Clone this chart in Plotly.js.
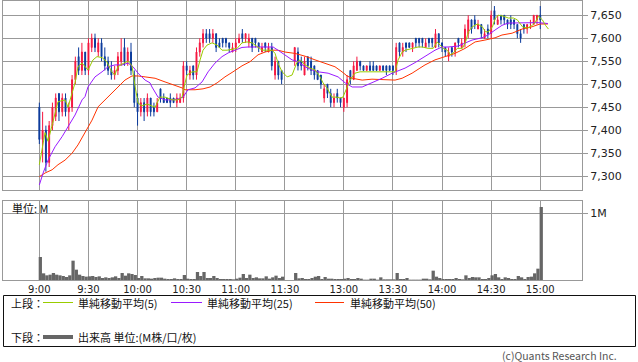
<!DOCTYPE html>
<html><head><meta charset="utf-8">
<script src="https://cdn.plot.ly/plotly-3.0.1.min.js"></script>
<style>html,body{margin:0;padding:0;background:#fff;}#chart{width:638px;height:362px;}</style>
</head><body><div id="chart"></div>
<script>
// ---- data (2-minute bars; morning 9:00-11:28, afternoon 12:30-15:00) ----
const tickLabels = ['9:00','9:30','10:00','10:30','11:00','11:30','13:00','13:30','14:00','14:30','15:00'];
const amBars = 75, pmBars = 76;

const openP = [
7450,7380,7400,7330,7410,7430,7480,7440,7470,7440,7450,7510,7560,7530,7570,7530,7580,7600,7570,7590,
7560,7550,7530,7520,7530,7550,7580,7550,7570,7520,7470,7440,7460,7440,7470,7450,7440,7490,7470,7470,
7470,7470,7460,7460,7470,7540,7520,7540,7520,7570,7590,7610,7610,7600,7610,7590,7600,7600,7590,7570,
7580,7590,7610,7600,7590,7600,7600,7590,7570,7590,7570,7580,7520,7550,7530,
// afternoon
7550,7570,7550,7520,7560,7550,7540,7530,7520,7470,7500,7480,7460,7480,7470,7450,7460,7530,7510,7530,
7550,7540,7530,7540,7540,7540,7530,7540,7540,7540,7540,7530,7590,7570,7590,7590,7580,7600,7600,7600,
7580,7600,7600,7580,7610,7590,7580,7560,7580,7570,7600,7580,7590,7610,7640,7640,7620,7630,7600,7620,
7610,7660,7630,7650,7650,7640,7640,7640,7630,7610,7630,7620,7630,7630,7640,7650];
const highP = [
7460,7440,7410,7420,7460,7480,7480,7480,7480,7460,7520,7560,7580,7590,7570,7600,7610,7610,7600,7600,
7580,7560,7550,7540,7570,7600,7600,7580,7590,7530,7480,7470,7470,7480,7470,7460,7470,7490,7480,7470,
7480,7470,7480,7480,7550,7550,7540,7540,7580,7600,7620,7620,7620,7620,7610,7600,7600,7600,7590,7590,
7600,7610,7620,7610,7610,7600,7600,7590,7590,7590,7590,7590,7560,7550,7530,
// afternoon
7580,7580,7560,7560,7560,7560,7540,7530,7520,7500,7500,7490,7480,7490,7470,7470,7520,7530,7550,7560,
7550,7540,7540,7550,7550,7540,7540,7540,7540,7540,7540,7590,7590,7590,7590,7590,7590,7600,7600,7600,
7600,7600,7600,7620,7610,7590,7580,7580,7580,7590,7600,7600,7630,7650,7640,7650,7640,7630,7620,7630,
7660,7670,7650,7650,7650,7640,7650,7640,7630,7620,7630,7630,7640,7650,7650,7670];
const lowP = [
7370,7330,7310,7320,7400,7420,7420,7430,7430,7400,7440,7500,7520,7520,7520,7520,7570,7570,7560,7550,
7530,7520,7510,7510,7520,7540,7540,7540,7520,7450,7410,7430,7420,7430,7430,7430,7440,7460,7460,7460,
7450,7460,7450,7460,7460,7520,7510,7510,7510,7560,7580,7590,7590,7590,7570,7580,7580,7580,7570,7570,
7570,7590,7590,7590,7580,7570,7580,7570,7570,7570,7570,7530,7510,7510,7500,
// afternoon
7540,7530,7530,7520,7530,7520,7510,7510,7490,7460,7470,7450,7450,7460,7450,7440,7450,7500,7510,7530,
7530,7530,7530,7530,7530,7530,7530,7530,7520,7530,7520,7520,7560,7560,7570,7580,7570,7580,7580,7580,
7580,7580,7580,7580,7580,7570,7560,7550,7560,7560,7580,7580,7580,7600,7610,7620,7620,7600,7600,7600,
7600,7630,7630,7630,7630,7620,7620,7620,7600,7590,7610,7610,7620,7630,7630,7620];
const closeP = [
7380,7400,7330,7410,7450,7470,7440,7470,7440,7450,7510,7550,7530,7570,7530,7590,7600,7580,7590,7560,
7540,7530,7520,7530,7560,7570,7550,7570,7530,7460,7440,7460,7440,7470,7440,7440,7460,7470,7460,7460,
7460,7460,7470,7470,7540,7530,7530,7520,7570,7590,7610,7600,7600,7610,7580,7580,7590,7590,7580,7580,
7590,7600,7600,7610,7600,7580,7590,7580,7580,7580,7580,7540,7550,7520,7510,
// afternoon
7580,7540,7540,7550,7540,7530,7520,7510,7500,7490,7480,7460,7470,7470,7460,7470,7510,7510,7540,7550,
7540,7530,7540,7530,7530,7530,7540,7530,7530,7530,7530,7580,7570,7580,7580,7580,7590,7590,7590,7590,
7590,7590,7590,7610,7590,7580,7570,7570,7570,7590,7590,7590,7620,7640,7620,7630,7630,7610,7610,7610,
7650,7640,7640,7640,7640,7630,7630,7630,7610,7600,7620,7630,7630,7650,7650,7640];
// volume, millions
const volumeM = [
0.345,0.10,0.07,0.08,0.105,0.08,0.07,0.06,0.045,0.07,0.29,0.155,0.08,0.06,0.05,0.055,0.06,0.045,0.055,0.03,
0.04,0.03,0.04,0.055,0.03,0.105,0.065,0.10,0.09,0.075,0.03,0.06,0.025,0.025,0.02,0.03,0.035,0.035,0.02,0.015,
0.015,0.025,0.015,0.015,0.075,0.02,0.015,0.015,0.12,0.06,0.12,0.03,0.03,0.06,0.03,0.015,0.015,0.015,0.015,0.01,
0.02,0.035,0.09,0.03,0.08,0.03,0.04,0.025,0.025,0.055,0.02,0.04,0.065,0.03,0.05,
// afternoon
0.105,0.025,0.03,0.015,0.015,0.03,0.05,0.06,0.015,0.045,0.02,0.02,0.015,0.015,0.015,0.02,0.03,0.015,0.015,0.03,
0.02,0.005,0.005,0.02,0.02,0.005,0.04,0.01,0.01,0.01,0.01,0.105,0.015,0.015,0.03,0.005,0.005,0.005,0.005,0.02,
0.02,0.01,0.14,0.05,0.03,0.015,0.015,0.015,0.015,0.03,0.015,0.01,0.07,0.03,0.045,0.04,0.04,0.015,0.015,0.03,
0.07,0.09,0.04,0.015,0.04,0.03,0.015,0.015,0.06,0.04,0.015,0.045,0.05,0.10,0.17,1.095];

// moving averages (position in session minutes, value)
const sma5T = [0,3.5,5.3,9.6,11.4,15.7,17.5,21.8,23.6,26.1,27.9,29.7,32.8,35.2,38.3,41.2,44.2,46.1,48,51.1,54.2,56.6,58.5,60.3,62.7,65.8,70.7,73.7,76.8,81.1,84.7,87.2,88.4,90.2,93.3,96.3,98.2,100,102.4,105.5,108.6,111.6,114.7,117.7,120.8,123.8,126.9,129.9,133,136.1,139.1,142.2,144,145.9,148.3,151.4,154.4,157.4,159.3,162.3,165.4,168.4,171.5,173.3,175.7,178.8,181.8,183.7,185.5,188,189.8,192.8,195.9,199,203.2,206.9,211.2,215.5,217.3,219.2,221.6,223.5,227.8,231.4,233.9,237.5,240.6,243,244.9,246.7,249.2,251,252.9,255.3,258.4,260.2,262.1,264.5,267.6,270.6,272.5,274.3,276.8,278.6,280.4,283.5,286.5,289.6,292,295.1,298.1,301.2,303,304.9,307.3,309.2,311];
const sma5V = [7325,7395,7376,7440,7462,7466,7450,7503,7538,7546,7538,7531,7553,7560,7558,7549,7527,7520,7538,7545,7550,7540,7495,7459,7453,7457,7450,7472,7472,7466,7466,7472,7494,7520,7527,7527,7553,7574,7585,7590,7585,7574,7574,7576,7578,7590,7592,7590,7581,7574,7574,7574,7567,7545,7527,7516,7520,7548,7553,7542,7535,7531,7516,7503,7492,7472,7472,7470,7472,7492,7509,7524,7527,7527,7527,7527,7527,7527,7527,7553,7570,7574,7578,7581,7581,7578,7578,7592,7585,7578,7574,7564,7568,7578,7578,7590,7614,7625,7631,7625,7614,7614,7625,7644,7650,7648,7644,7644,7640,7625,7622,7628,7635,7648,7640,7628,7620];
const sma25T = [0,2.3,5.3,9.6,13.9,17.5,21.8,26.1,27.9,29.7,34,38.3,42,46.2,50.5,54.2,57.2,60.3,64.6,67.6,68.8,72.5,76.8,81.1,84.7,87.8,90.8,95.1,99.4,103.1,107.3,111.6,115.3,119.5,123.8,127.5,142.8,145.8,150.1,153.2,154.4,158,162.3,166.6,170.3,176.4,182.5,186.8,191.1,197.2,203.2,209.4,215.5,219.2,223.4,229.5,235.6,241.7,246,249.7,255.8,260.1,264.3,270.4,274.1,278.4,282.6,286.3,304.6,310.7];
const sma25V = [7281,7307,7335,7364,7386,7407,7433,7466,7473,7494,7516,7527,7538,7542,7542,7546,7538,7524,7509,7503,7494,7472,7466,7466,7468,7472,7488,7492,7505,7527,7546,7560,7568,7574,7580,7581,7581,7574,7564,7555,7553,7549,7538,7531,7527,7524,7516,7503,7494,7494,7503,7513,7524,7529,7535,7547,7560,7574,7581,7581,7583,7590,7596,7601,7607,7618,7628,7633,7634,7632];
const sma50T = [0,3.5,7.8,11.4,15.7,20,23.6,27.9,32.2,35.9,40.1,44.4,48.1,52.3,56.6,60.3,64.6,70.7,76.8,82.9,87.2,89,95.1,100,104.3,108.6,113.4,118.3,123.8,128.7,133.6,137.9,142.2,145.8,150.1,156.2,162.3,168.4,174.5,180.6,184.9,188,191.1,197.2,203.2,213,217.3,221.6,227.7,232.5,235.6,241.7,247.8,253.9,260.1,266.2,272.2,278.4,282.6,288.8,294.9,301,305.9,310.7];
const sma50V = [7299,7307,7314,7325,7335,7350,7368,7394,7422,7451,7466,7481,7494,7509,7518,7518,7516,7513,7505,7498,7492,7488,7488,7490,7494,7503,7516,7527,7540,7549,7564,7570,7574,7574,7570,7567,7561,7553,7545,7538,7527,7518,7513,7509,7511,7509,7509,7513,7524,7535,7542,7553,7560,7567,7578,7592,7596,7601,7607,7611,7620,7625,7631,7631];

// ---- axis positions (lunch break compressed) ----
function pos(h, m) {
  const mins = h * 60 + m;
  return mins < 12 * 60 ? mins - 540 : (mins - 750) + 156;
}
const barT = [];
for (let k = 0; k < amBars; k++) barT.push(pos(9, 2 * k));
for (let k = 0; k < pmBars; k++) barT.push(pos(12, 30 + 2 * k));
const tickVals = tickLabels.map(s => { const [h, m] = s.split(':').map(Number); return pos(h, m); });
const volX = barT.map(t => t + 0.6);

const UP = '#f5163f', DOWN = '#0a3a9c';
const C5 = '#99cc00', C25 = '#9a1aff', C50 = '#ff3300', VOL = '#666666', GRID = '#999999';

const traces = [
  { type: 'candlestick', x: barT, open: openP, high: highP, low: lowP, close: closeP,
    xaxis: 'x', yaxis: 'y', whiskerwidth: 0, hoverinfo: 'skip',
    increasing: { line: { color: UP, width: 1 }, fillcolor: UP },
    decreasing: { line: { color: DOWN, width: 1 }, fillcolor: DOWN } },
  { type: 'scatter', mode: 'lines', x: sma50T, y: sma50V, line: { color: C50, width: 1 }, xaxis: 'x', yaxis: 'y', hoverinfo: 'skip' },
  { type: 'scatter', mode: 'lines', x: sma25T, y: sma25V, line: { color: C25, width: 1 }, xaxis: 'x', yaxis: 'y', hoverinfo: 'skip' },
  { type: 'scatter', mode: 'lines', x: sma5T, y: sma5V, line: { color: C5, width: 1 }, xaxis: 'x', yaxis: 'y', hoverinfo: 'skip' },
  { type: 'bar', x: volX, y: volumeM, width: 2, marker: { color: VOL, line: { width: 0 } }, xaxis: 'x', yaxis: 'y2', hoverinfo: 'skip' }
];

// pixel helpers for paper coordinates
const ML = 3, MT = 1, PW = 579, PH = 279;
const px = x => (x - ML) / PW;
const py = y => (MT + PH - y) / PH;

const jp = { family: 'Noto Sans CJK JP', size: 11, color: '#111' };
const ann = (x, y, text, extra) => Object.assign({ xref: 'paper', yref: 'paper', x: px(x), y: py(y), text, showarrow: false, xanchor: 'left', yanchor: 'middle', font: jp, borderpad: 0 }, extra || {});
const hline = (x0, x1, y, color, w) => ({ type: 'line', xref: 'paper', yref: 'paper', x0: px(x0), x1: px(x1), y0: py(y), y1: py(y), line: { color, width: w } });

const layout = {
  width: 638, height: 362,
  margin: { l: ML, r: 638 - ML - PW, t: MT, b: 362 - MT - PH, pad: 0 },
  paper_bgcolor: '#fff', plot_bgcolor: '#fff', showlegend: false, boxgap: 0.6,
  xaxis: { range: [-22.2, 331.5], anchor: 'y2', tickvals: tickVals, ticktext: tickLabels,
    showgrid: true, gridcolor: GRID, gridwidth: 1, showline: true, linecolor: GRID, linewidth: 1, mirror: 'all',
    ticks: '', zeroline: false, rangeslider: { visible: false }, fixedrange: true,
    tickfont: { family: 'DejaVu Sans', size: 10, color: '#222' } },
  yaxis: { domain: [1 - 189 / PH, 1], range: [7270, 7681], side: 'right', tick0: 7300, dtick: 50, tickformat: ',d',
    showgrid: true, gridcolor: GRID, showline: true, linecolor: GRID, mirror: true, zeroline: false,
    ticks: 'outside', ticklen: 5, tickcolor: GRID, fixedrange: true,
    tickfont: { family: 'DejaVu Sans', size: 11, color: '#222' } },
  yaxis2: { domain: [0, 1 - 200 / PH], range: [0, 1.185], side: 'right', tickvals: [1], ticktext: ['1M'],
    showgrid: true, gridcolor: GRID, showline: true, linecolor: GRID, mirror: true, zeroline: false,
    ticks: 'outside', ticklen: 5, tickcolor: GRID, fixedrange: true,
    tickfont: { family: 'DejaVu Sans', size: 11, color: '#222' } },
  shapes: [
    { type: 'rect', xref: 'paper', yref: 'paper', x0: px(3.5), x1: px(635.5), y0: py(346.5), y1: py(295.5), line: { color: '#111', width: 1 } },
    hline(43, 73, 302.5, C5, 1),
    hline(171, 202, 302.5, C25, 1),
    hline(315, 344, 302.5, C50, 1),
    hline(43, 73, 337, VOL, 4)
  ],
  annotations: [
    ann(11, 208, '単位: M'),
    ann(10, 302.5, '上段：'),
    ann(77, 302.5, '単純移動平均(5)'),
    ann(206, 302.5, '単純移動平均(25)'),
    ann(349, 302.5, '単純移動平均(50)'),
    ann(10, 337, '下段：'),
    ann(77, 337, '出来高 単位:(M株/口/枚)'),
    ann(618, 355, '(c)Quants Research Inc.', { xanchor: 'right', font: { family: 'Noto Sans CJK JP', size: 10.5, color: '#555' } })
  ]
};

Plotly.newPlot('chart', traces, layout, { staticPlot: true, displayModeBar: false });
</script></body></html>
